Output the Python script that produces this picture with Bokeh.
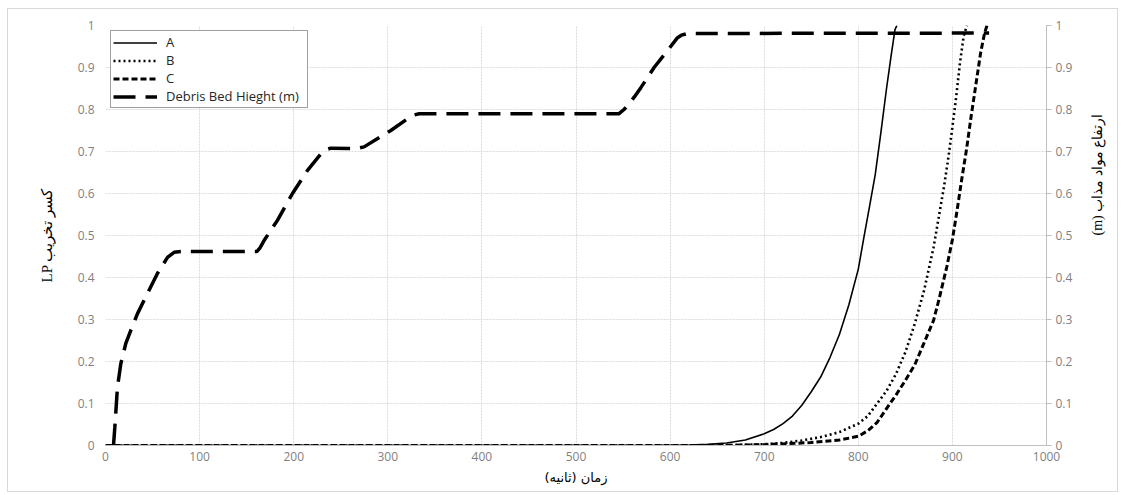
import math
from bokeh.plotting import figure
from bokeh.models import Range1d, LinearAxis, FixedTicker, Legend, LegendItem
from bokeh.embed import file_html
from bokeh.resources import INLINE

# ---- data ----
a_x = [0, 600, 620, 640, 660, 680, 700, 710, 720, 730, 740, 750, 760, 770, 780, 790, 800, 806, 812,
       818, 824, 830, 835, 839, 841]
a_y = [0, 0, 0.001, 0.003, 0.006, 0.013, 0.028, 0.038, 0.052, 0.07, 0.096, 0.128, 0.163, 0.21, 0.265,
       0.335, 0.42, 0.496, 0.57, 0.645, 0.745, 0.85, 0.93, 0.99, 1.0]

b_x = [0, 650, 700, 720, 740, 760, 780, 800, 810, 820, 830, 840, 850, 860, 870, 880, 886, 891, 896,
       900, 904, 908, 912, 915.5]
b_y = [0, 0, 0.003, 0.006, 0.012, 0.02, 0.032, 0.052, 0.07, 0.1, 0.13, 0.17, 0.222, 0.29, 0.37, 0.472,
       0.55, 0.615, 0.69, 0.758, 0.83, 0.91, 0.975, 1.0]

c_x = [0, 650, 700, 750, 780, 800, 810, 820, 830, 840, 850, 860, 870, 880, 886, 894, 900, 905, 910,
       915, 920, 925, 930, 934, 936.7]
c_y = [0, 0, 0.002, 0.007, 0.013, 0.022, 0.035, 0.055, 0.088, 0.12, 0.155, 0.192, 0.245, 0.298, 0.35,
       0.425, 0.49, 0.56, 0.635, 0.705, 0.785, 0.86, 0.935, 0.98, 1.0]

d_x = [8.5, 9.9, 12.7, 16.3, 21.6, 26.9, 34, 44.6, 55.3, 65.9, 72.9, 80, 161, 164, 168.5, 182.7, 198.7,
       214.7, 228.8, 234, 239.4, 264.2, 269, 274.8, 303.2, 320.9, 328, 333.3, 545.8, 551, 556, 562,
       568.9, 583, 597.2, 607.9, 612, 618.5, 939]
d_y = [0, 0.043, 0.139, 0.195, 0.243, 0.274, 0.314, 0.362, 0.41, 0.448, 0.46, 0.462, 0.462, 0.47, 0.488,
       0.536, 0.6, 0.655, 0.694, 0.704, 0.708, 0.707, 0.708, 0.711, 0.75, 0.778, 0.787, 0.79, 0.79,
       0.80, 0.812, 0.83, 0.852, 0.9, 0.94, 0.971, 0.977, 0.981, 0.982]

series_names = ["A", "B", "C", "Debris Bed Hieght (m)"]

x_ticks = [0, 100, 200, 300, 400, 500, 600, 700, 800, 900, 1000]
y_ticks = [0, 0.1, 0.2, 0.3, 0.4, 0.5, 0.6, 0.7, 0.8, 0.9, 1]
y_labels = ["0", "0.1", "0.2", "0.3", "0.4", "0.5", "0.6", "0.7", "0.8", "0.9", "1"]

x_title = "\u200fزمان (ثانیه)\u200f"
y_title = "LP کسر تخریب"
y2_title = "(m) ارتفاع مواد مذاب"

FONT = "Open Sans"
GRID = "#dcdcdc"
LABEL = "#7f7f7f"

p = figure(width=1111, height=484, output_backend="svg", toolbar_location=None,
           x_range=Range1d(0, 1000), y_range=Range1d(0, 1),
           min_border_left=97, min_border_right=73, min_border_top=16, min_border_bottom=48)
p.extra_y_ranges = {"right": Range1d(0, 1)}
p.outline_line_color = None
p.background_fill_color = "white"
p.border_fill_color = "white"
p.styles = {"border": "1px solid #d9d9d9", "margin-left": "7px", "margin-top": "8px"}

# grids
p.xgrid.ticker = FixedTicker(ticks=x_ticks)
p.ygrid.ticker = FixedTicker(ticks=y_ticks)
for g in (p.xgrid, p.ygrid):
    g.grid_line_color = GRID
    g.grid_line_dash = "2 1"
    g.grid_line_width = 1

# x axis
xa = p.xaxis[0]
xa.ticker = FixedTicker(ticks=x_ticks)
xa.axis_line_color = "#bfbfbf"
xa.major_tick_out = 0
xa.major_tick_in = 0
xa.minor_tick_line_color = None
xa.major_label_standoff = 6
xa.major_label_text_font = FONT
xa.major_label_text_font_size = "12px"
xa.major_label_text_color = LABEL
xa.axis_label = x_title
xa.axis_label_text_font = "DejaVu Sans"
xa.axis_label_text_font_size = "13px"
xa.axis_label_text_font_style = "normal"
xa.axis_label_text_color = "#000000"
xa.axis_label_standoff = 6

# left axis
ya = p.yaxis[0]
ya.ticker = FixedTicker(ticks=y_ticks)
ya.major_label_overrides = {t: l for t, l in zip(y_ticks, y_labels)}
ya.axis_line_color = None
ya.major_tick_out = 0
ya.major_tick_in = 0
ya.minor_tick_line_color = None
ya.major_label_standoff = 11
ya.major_label_text_font = FONT
ya.major_label_text_font_size = "12px"
ya.major_label_text_color = LABEL
ya.axis_label = y_title
ya.axis_label_text_font = "Liberation Serif"
ya.axis_label_text_font_size = "15px"
ya.axis_label_text_font_style = "normal"
ya.axis_label_text_color = "#000000"
ya.axis_label_standoff = 20

# right axis
ra = LinearAxis(y_range_name="right", ticker=FixedTicker(ticks=y_ticks))
ra.major_label_overrides = {t: l for t, l in zip(y_ticks, y_labels)}
ra.axis_line_color = "#bfbfbf"
ra.major_tick_line_color = "#bfbfbf"
ra.major_tick_out = 5
ra.major_tick_in = 0
ra.minor_tick_line_color = None
ra.major_label_standoff = 4
ra.major_label_text_font = FONT
ra.major_label_text_font_size = "12px"
ra.major_label_text_color = LABEL
ra.axis_label = y2_title
ra.axis_label_orientation = math.pi / 2
ra.axis_label_text_font = "Liberation Serif"
ra.axis_label_text_font_size = "14px"
ra.axis_label_text_font_style = "normal"
ra.axis_label_text_color = "#000000"
ra.axis_label_standoff = 22
p.add_layout(ra, "right")

# lines
r_a = p.line(a_x, a_y, line_color="black", line_width=1.6)
r_b = p.line(b_x, b_y, line_color="black", line_width=2.6, line_dash="2 3")
r_c = p.line(c_x, c_y, line_color="black", line_width=3, line_dash="6 3")
r_d = p.line(d_x, d_y, line_color="black", line_width=3.5, line_dash="22 10", y_range_name="right")

legend = Legend(items=[LegendItem(label=n, renderers=[r]) for n, r in zip(series_names, [r_a, r_b, r_c, r_d])],
                location="top_left")
legend.margin = 5
legend.padding = 2
legend.spacing = 0
legend.glyph_width = 44
legend.glyph_height = 15
legend.label_height = 15
legend.label_width = 139
legend.label_standoff = 9
legend.label_text_font = FONT
legend.label_text_font_size = "13px"
legend.label_text_color = "#262626"
legend.border_line_color = "#404040"
legend.border_line_width = 1
legend.background_fill_alpha = 1
p.add_layout(legend, "center")

open("out.html", "w").write(file_html(p, INLINE))
